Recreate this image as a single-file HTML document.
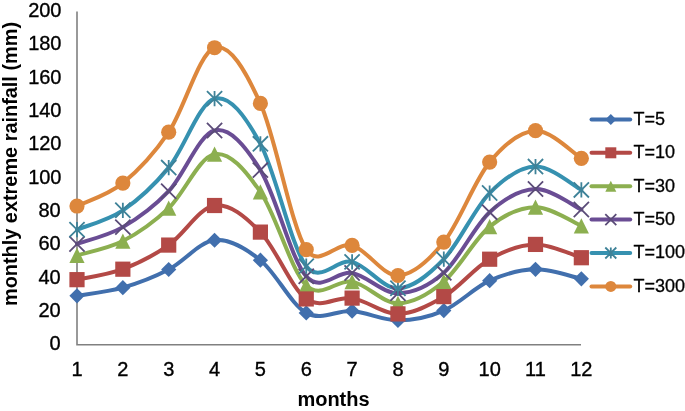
<!DOCTYPE html>
<html><head><meta charset="utf-8"><style>
html,body{margin:0;padding:0;background:#fff;width:685px;height:411px;overflow:hidden}
svg{display:block;will-change:transform}
.t{font-family:"Liberation Sans",sans-serif;font-size:20px;fill:#000;stroke:#000;stroke-width:0.35px}
.l{font-family:"Liberation Sans",sans-serif;font-size:18px;fill:#000;stroke:#000;stroke-width:0.3px}
.b{font-family:"Liberation Sans",sans-serif;font-size:20px;font-weight:bold;fill:#000}
</style></head><body>
<svg width="685" height="411" viewBox="0 0 685 411">
<rect width="685" height="411" fill="#fff"/>
<path d="M77.0,11.5 L77.0,344.7 L581,344.7" stroke="#808080" stroke-width="1.6" fill="none"/>
<text x="60.7" y="350.25" text-anchor="end" class="t">0</text>
<text x="60.7" y="316.91" text-anchor="end" class="t">20</text>
<text x="60.7" y="283.57" text-anchor="end" class="t">40</text>
<text x="60.7" y="250.23" text-anchor="end" class="t">60</text>
<text x="60.7" y="216.89" text-anchor="end" class="t">80</text>
<text x="61.5" y="183.55" text-anchor="end" class="t">100</text>
<text x="61.5" y="150.21" text-anchor="end" class="t">120</text>
<text x="61.5" y="116.87" text-anchor="end" class="t">140</text>
<text x="61.5" y="83.53" text-anchor="end" class="t">160</text>
<text x="61.5" y="50.19" text-anchor="end" class="t">180</text>
<text x="61.5" y="16.85" text-anchor="end" class="t">200</text>
<text x="77.00" y="375.8" text-anchor="middle" class="t">1</text>
<text x="122.85" y="375.8" text-anchor="middle" class="t">2</text>
<text x="168.70" y="375.8" text-anchor="middle" class="t">3</text>
<text x="214.55" y="375.8" text-anchor="middle" class="t">4</text>
<text x="260.40" y="375.8" text-anchor="middle" class="t">5</text>
<text x="306.25" y="375.8" text-anchor="middle" class="t">6</text>
<text x="352.10" y="375.8" text-anchor="middle" class="t">7</text>
<text x="397.95" y="375.8" text-anchor="middle" class="t">8</text>
<text x="443.80" y="375.8" text-anchor="middle" class="t">9</text>
<text x="489.65" y="375.8" text-anchor="middle" class="t">10</text>
<text x="535.50" y="375.8" text-anchor="middle" class="t">11</text>
<text x="581.35" y="375.8" text-anchor="middle" class="t">12</text>
<text x="333.5" y="406" text-anchor="middle" class="b">months</text>
<text transform="translate(17,164) rotate(-90)" text-anchor="middle" class="b" style="font-size:19.9px">monthly extreme rainfall (mm)</text>
<path d="M77.00,295.79 C84.64,294.43 107.57,292.02 122.85,287.64 C138.13,283.26 153.42,277.42 168.70,269.52 C183.98,261.62 199.27,241.81 214.55,240.26 C229.83,238.71 245.12,248.10 260.40,260.21 C275.68,272.32 290.97,304.43 306.25,312.91 C321.53,321.39 336.82,309.84 352.10,311.08 C367.38,312.33 382.67,320.48 397.95,320.39 C413.23,320.31 428.52,317.21 443.80,310.58 C459.08,303.96 474.37,287.53 489.65,280.66 C504.93,273.79 520.22,269.66 535.50,269.35 C550.78,269.05 573.71,277.25 581.35,278.83" stroke="#416FAD" stroke-width="4.0" fill="none" stroke-linecap="round" stroke-linejoin="round"/>
<path d="M77.00,279.66 C84.64,277.92 107.57,274.95 122.85,269.19 C138.13,263.42 153.42,255.69 168.70,245.08 C183.98,234.47 199.27,207.67 214.55,205.51 C229.83,203.35 245.12,216.54 260.40,232.11 C275.68,247.69 290.97,287.95 306.25,298.95 C321.53,309.95 336.82,295.62 352.10,298.12 C367.38,300.61 382.67,314.16 397.95,313.91 C413.23,313.66 428.52,305.73 443.80,296.62 C459.08,287.50 474.37,267.91 489.65,259.21 C504.93,250.51 520.22,244.67 535.50,244.42 C550.78,244.17 573.71,255.50 581.35,257.72" stroke="#B34946" stroke-width="4.0" fill="none" stroke-linecap="round" stroke-linejoin="round"/>
<path d="M77.00,255.39 C84.64,253.01 107.57,248.96 122.85,241.09 C138.13,233.22 153.42,222.67 168.70,208.17 C183.98,193.68 199.27,156.86 214.55,154.14 C229.83,151.43 245.12,170.02 260.40,191.88 C275.68,213.74 290.97,270.35 306.25,285.31 C321.53,300.28 336.82,278.66 352.10,281.66 C367.38,284.65 382.67,303.30 397.95,303.27 C413.23,303.24 428.52,294.26 443.80,281.49 C459.08,268.72 474.37,239.01 489.65,226.63 C504.93,214.24 520.22,207.31 535.50,207.18 C550.78,207.04 573.71,222.69 581.35,225.80" stroke="#8CAF50" stroke-width="4.0" fill="none" stroke-linecap="round" stroke-linejoin="round"/>
<path d="M77.00,243.92 C84.64,241.12 107.57,235.91 122.85,227.13 C138.13,218.34 153.42,207.31 168.70,191.22 C183.98,175.12 199.27,134.05 214.55,130.53 C229.83,127.02 245.12,145.80 260.40,170.10 C275.68,194.40 290.97,259.18 306.25,276.34 C321.53,293.49 336.82,270.19 352.10,273.01 C367.38,275.84 382.67,293.32 397.95,293.29 C413.23,293.27 428.52,286.37 443.80,272.85 C459.08,259.32 474.37,226.13 489.65,212.16 C504.93,198.20 520.22,189.50 535.50,189.06 C550.78,188.61 573.71,206.10 581.35,209.50" stroke="#6A4D94" stroke-width="4.0" fill="none" stroke-linecap="round" stroke-linejoin="round"/>
<path d="M77.00,229.62 C84.64,226.41 107.57,220.67 122.85,210.33 C138.13,200.00 153.42,186.23 168.70,167.61 C183.98,148.99 199.27,102.58 214.55,98.62 C229.83,94.65 245.12,115.91 260.40,143.84 C275.68,171.77 290.97,246.52 306.25,266.19 C320.38,284.38 336.82,258.19 352.10,261.87 C367.38,265.56 382.67,288.75 397.95,288.31 C413.23,287.86 428.52,275.09 443.80,259.21 C459.08,243.34 474.37,208.48 489.65,193.04 C504.93,177.61 520.22,167.14 535.50,166.61 C550.78,166.08 573.71,186.01 581.35,189.89" stroke="#3691B0" stroke-width="4.0" fill="none" stroke-linecap="round" stroke-linejoin="round"/>
<path d="M77.00,206.01 C84.64,202.19 107.57,195.37 122.85,183.07 C138.13,170.77 153.42,154.75 168.70,132.20 C183.98,109.64 199.27,52.54 214.55,47.74 C229.83,42.95 245.48,70.60 260.40,103.44 C275.68,137.07 290.97,225.91 306.25,249.57 C318.74,268.91 336.82,241.09 352.10,245.41 C367.38,249.74 382.67,276.06 397.95,275.50 C413.23,274.95 428.52,260.99 443.80,242.09 C459.08,223.19 474.37,180.69 489.65,162.12 C504.93,143.56 520.22,131.34 535.50,130.70 C550.78,130.06 573.71,153.70 581.35,158.30" stroke="#DD873C" stroke-width="4.0" fill="none" stroke-linecap="round" stroke-linejoin="round"/>
<path d="M77.00,288.19 L84.60,295.79 L77.00,303.39 L69.40,295.79Z" fill="#416FAD"/>
<path d="M122.85,280.04 L130.45,287.64 L122.85,295.24 L115.25,287.64Z" fill="#416FAD"/>
<path d="M168.70,261.92 L176.30,269.52 L168.70,277.12 L161.10,269.52Z" fill="#416FAD"/>
<path d="M214.55,232.66 L222.15,240.26 L214.55,247.86 L206.95,240.26Z" fill="#416FAD"/>
<path d="M260.40,252.61 L268.00,260.21 L260.40,267.81 L252.80,260.21Z" fill="#416FAD"/>
<path d="M306.25,305.31 L313.85,312.91 L306.25,320.51 L298.65,312.91Z" fill="#416FAD"/>
<path d="M352.10,303.48 L359.70,311.08 L352.10,318.68 L344.50,311.08Z" fill="#416FAD"/>
<path d="M397.95,312.79 L405.55,320.39 L397.95,327.99 L390.35,320.39Z" fill="#416FAD"/>
<path d="M443.80,302.98 L451.40,310.58 L443.80,318.18 L436.20,310.58Z" fill="#416FAD"/>
<path d="M489.65,273.06 L497.25,280.66 L489.65,288.26 L482.05,280.66Z" fill="#416FAD"/>
<path d="M535.50,261.75 L543.10,269.35 L535.50,276.95 L527.90,269.35Z" fill="#416FAD"/>
<path d="M581.35,271.23 L588.95,278.83 L581.35,286.43 L573.75,278.83Z" fill="#416FAD"/>
<path d="M77.00,247.79 L84.60,262.99 L69.40,262.99Z" fill="#8CAF50"/>
<path d="M122.85,233.49 L130.45,248.69 L115.25,248.69Z" fill="#8CAF50"/>
<path d="M168.70,200.57 L176.30,215.77 L161.10,215.77Z" fill="#8CAF50"/>
<path d="M214.55,146.54 L222.15,161.74 L206.95,161.74Z" fill="#8CAF50"/>
<path d="M260.40,184.28 L268.00,199.48 L252.80,199.48Z" fill="#8CAF50"/>
<path d="M306.25,277.71 L313.85,292.91 L298.65,292.91Z" fill="#8CAF50"/>
<path d="M352.10,274.06 L359.70,289.26 L344.50,289.26Z" fill="#8CAF50"/>
<path d="M397.95,295.67 L405.55,310.87 L390.35,310.87Z" fill="#8CAF50"/>
<path d="M443.80,273.89 L451.40,289.09 L436.20,289.09Z" fill="#8CAF50"/>
<path d="M489.65,219.03 L497.25,234.23 L482.05,234.23Z" fill="#8CAF50"/>
<path d="M535.50,199.58 L543.10,214.78 L527.90,214.78Z" fill="#8CAF50"/>
<path d="M581.35,218.20 L588.95,233.40 L573.75,233.40Z" fill="#8CAF50"/>
<rect x="69.40" y="272.06" width="15.20" height="15.20" fill="#B34946"/>
<rect x="115.25" y="261.59" width="15.20" height="15.20" fill="#B34946"/>
<rect x="161.10" y="237.48" width="15.20" height="15.20" fill="#B34946"/>
<rect x="206.95" y="197.91" width="15.20" height="15.20" fill="#B34946"/>
<rect x="252.80" y="224.51" width="15.20" height="15.20" fill="#B34946"/>
<rect x="298.65" y="291.35" width="15.20" height="15.20" fill="#B34946"/>
<rect x="344.50" y="290.51" width="15.20" height="15.20" fill="#B34946"/>
<rect x="390.35" y="306.31" width="15.20" height="15.20" fill="#B34946"/>
<rect x="436.20" y="289.02" width="15.20" height="15.20" fill="#B34946"/>
<rect x="482.05" y="251.61" width="15.20" height="15.20" fill="#B34946"/>
<rect x="527.90" y="236.82" width="15.20" height="15.20" fill="#B34946"/>
<rect x="573.75" y="250.12" width="15.20" height="15.20" fill="#B34946"/>
<path d="M69.40,236.32 L84.60,251.52 M84.60,236.32 L69.40,251.52" stroke="#5B4C78" stroke-width="1.8" fill="none"/>
<path d="M115.25,219.53 L130.45,234.73 M130.45,219.53 L115.25,234.73" stroke="#5B4C78" stroke-width="1.8" fill="none"/>
<path d="M161.10,183.62 L176.30,198.82 M176.30,183.62 L161.10,198.82" stroke="#5B4C78" stroke-width="1.8" fill="none"/>
<path d="M206.95,122.94 L222.15,138.13 M222.15,122.94 L206.95,138.13" stroke="#5B4C78" stroke-width="1.8" fill="none"/>
<path d="M252.80,162.50 L268.00,177.70 M268.00,162.50 L252.80,177.70" stroke="#5B4C78" stroke-width="1.8" fill="none"/>
<path d="M298.65,268.74 L313.85,283.94 M313.85,268.74 L298.65,283.94" stroke="#5B4C78" stroke-width="1.8" fill="none"/>
<path d="M344.50,265.41 L359.70,280.61 M359.70,265.41 L344.50,280.61" stroke="#5B4C78" stroke-width="1.8" fill="none"/>
<path d="M390.35,285.69 L405.55,300.89 M405.55,285.69 L390.35,300.89" stroke="#5B4C78" stroke-width="1.8" fill="none"/>
<path d="M436.20,265.25 L451.40,280.45 M451.40,265.25 L436.20,280.45" stroke="#5B4C78" stroke-width="1.8" fill="none"/>
<path d="M482.05,204.56 L497.25,219.76 M497.25,204.56 L482.05,219.76" stroke="#5B4C78" stroke-width="1.8" fill="none"/>
<path d="M527.90,181.46 L543.10,196.66 M543.10,181.46 L527.90,196.66" stroke="#5B4C78" stroke-width="1.8" fill="none"/>
<path d="M573.75,201.90 L588.95,217.10 M588.95,201.90 L573.75,217.10" stroke="#5B4C78" stroke-width="1.8" fill="none"/>
<path d="M69.40,222.02 L84.60,237.22 M84.60,222.02 L69.40,237.22 M77.00,222.02 L77.00,237.22" stroke="#3E8298" stroke-width="1.8" fill="none"/>
<path d="M115.25,202.73 L130.45,217.93 M130.45,202.73 L115.25,217.93 M122.85,202.73 L122.85,217.93" stroke="#3E8298" stroke-width="1.8" fill="none"/>
<path d="M161.10,160.01 L176.30,175.21 M176.30,160.01 L161.10,175.21 M168.70,160.01 L168.70,175.21" stroke="#3E8298" stroke-width="1.8" fill="none"/>
<path d="M206.95,91.02 L222.15,106.22 M222.15,91.02 L206.95,106.22 M214.55,91.02 L214.55,106.22" stroke="#3E8298" stroke-width="1.8" fill="none"/>
<path d="M252.80,136.24 L268.00,151.44 M268.00,136.24 L252.80,151.44 M260.40,136.24 L260.40,151.44" stroke="#3E8298" stroke-width="1.8" fill="none"/>
<path d="M298.65,258.59 L313.85,273.80 M313.85,258.59 L298.65,273.80 M306.25,258.59 L306.25,273.80" stroke="#3E8298" stroke-width="1.8" fill="none"/>
<path d="M344.50,254.27 L359.70,269.47 M359.70,254.27 L344.50,269.47 M352.10,254.27 L352.10,269.47" stroke="#3E8298" stroke-width="1.8" fill="none"/>
<path d="M390.35,280.71 L405.55,295.91 M405.55,280.71 L390.35,295.91 M397.95,280.71 L397.95,295.91" stroke="#3E8298" stroke-width="1.8" fill="none"/>
<path d="M436.20,251.61 L451.40,266.81 M451.40,251.61 L436.20,266.81 M443.80,251.61 L443.80,266.81" stroke="#3E8298" stroke-width="1.8" fill="none"/>
<path d="M482.05,185.44 L497.25,200.64 M497.25,185.44 L482.05,200.64 M489.65,185.44 L489.65,200.64" stroke="#3E8298" stroke-width="1.8" fill="none"/>
<path d="M527.90,159.01 L543.10,174.21 M543.10,159.01 L527.90,174.21 M535.50,159.01 L535.50,174.21" stroke="#3E8298" stroke-width="1.8" fill="none"/>
<path d="M573.75,182.29 L588.95,197.49 M588.95,182.29 L573.75,197.49 M581.35,182.29 L581.35,197.49" stroke="#3E8298" stroke-width="1.8" fill="none"/>
<circle cx="77.00" cy="206.01" r="7.60" fill="#DD873C"/>
<circle cx="122.85" cy="183.07" r="7.60" fill="#DD873C"/>
<circle cx="168.70" cy="132.20" r="7.60" fill="#DD873C"/>
<circle cx="214.55" cy="47.74" r="7.60" fill="#DD873C"/>
<circle cx="260.40" cy="103.44" r="7.60" fill="#DD873C"/>
<circle cx="306.25" cy="249.57" r="7.60" fill="#DD873C"/>
<circle cx="352.10" cy="245.41" r="7.60" fill="#DD873C"/>
<circle cx="397.95" cy="275.50" r="7.60" fill="#DD873C"/>
<circle cx="443.80" cy="242.09" r="7.60" fill="#DD873C"/>
<circle cx="489.65" cy="162.12" r="7.60" fill="#DD873C"/>
<circle cx="535.50" cy="130.70" r="7.60" fill="#DD873C"/>
<circle cx="581.35" cy="158.30" r="7.60" fill="#DD873C"/>
<path d="M591.5,119.40 L630.2,119.40" stroke="#416FAD" stroke-width="4.0" stroke-linecap="round"/>
<path d="M610.80,113.90 L616.30,119.40 L610.80,124.90 L605.30,119.40Z" fill="#416FAD"/>
<text x="633.4" y="124.80" class="l">T=5</text>
<path d="M591.5,152.80 L630.2,152.80" stroke="#B34946" stroke-width="4.0" stroke-linecap="round"/>
<rect x="605.30" y="147.30" width="11.00" height="11.00" fill="#B34946"/>
<text x="633.4" y="158.20" class="l">T=10</text>
<path d="M591.5,186.20 L630.2,186.20" stroke="#8CAF50" stroke-width="4.0" stroke-linecap="round"/>
<path d="M610.80,180.70 L616.30,191.70 L605.30,191.70Z" fill="#8CAF50"/>
<text x="633.4" y="191.60" class="l">T=30</text>
<path d="M591.5,219.60 L630.2,219.60" stroke="#6A4D94" stroke-width="4.0" stroke-linecap="round"/>
<path d="M605.30,214.10 L616.30,225.10 M616.30,214.10 L605.30,225.10" stroke="#5B4C78" stroke-width="1.8" fill="none"/>
<text x="633.4" y="225.00" class="l">T=50</text>
<path d="M591.5,253.00 L630.2,253.00" stroke="#3691B0" stroke-width="4.0" stroke-linecap="round"/>
<path d="M605.30,247.50 L616.30,258.50 M616.30,247.50 L605.30,258.50 M610.80,247.50 L610.80,258.50" stroke="#3E8298" stroke-width="1.8" fill="none"/>
<text x="633.4" y="258.40" class="l">T=100</text>
<path d="M591.5,286.40 L630.2,286.40" stroke="#DD873C" stroke-width="4.0" stroke-linecap="round"/>
<circle cx="610.80" cy="286.40" r="5.50" fill="#DD873C"/>
<text x="633.4" y="291.80" class="l">T=300</text>
</svg>
</body></html>
